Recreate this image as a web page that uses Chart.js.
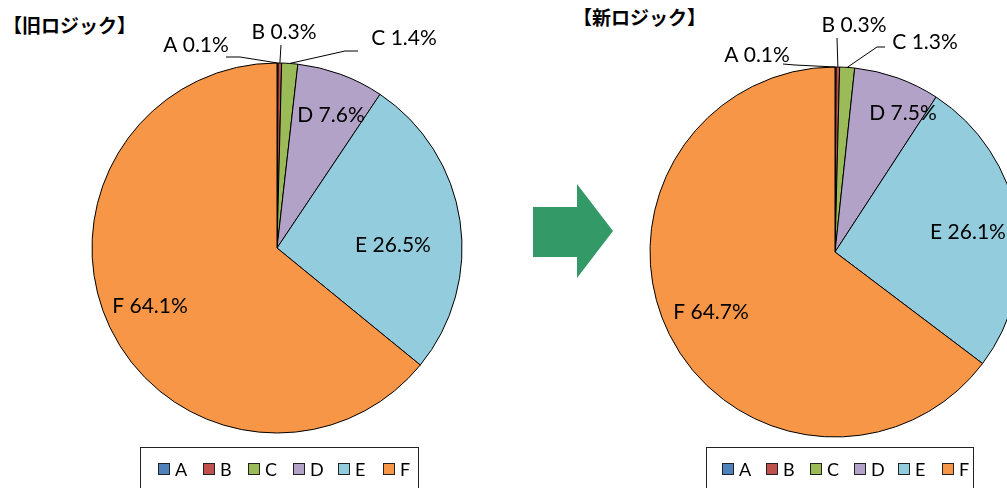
<!DOCTYPE html>
<html>
<head>
<meta charset="utf-8">
<script src="https://cdn.jsdelivr.net/npm/chart.js@4.4.1/dist/chart.umd.min.js"></script>
<style>
  html, body { margin: 0; padding: 0; background: #fff; }
  body { width: 1007px; height: 488px; overflow: hidden; position: relative; font-family: Lato, "Noto Sans", sans-serif; }
  canvas { position: absolute; top: 0; }
  .title { position: absolute; font-family: "Noto Sans CJK JP", sans-serif; font-weight: bold; font-size: 19px; line-height: 22px; white-space: nowrap; }
  .legend { position: absolute; top: 447px; height: 60px; border: 1px solid #222; box-sizing: border-box; display: flex; }
  .item { flex: none; display: flex; align-items: center; height: 22px; margin-top: 10px; font-size: 18px; }
  .sw { width: 10px; height: 10px; border: 1px solid #222; margin-right: 5px; }
  .arrow { position: absolute; left: 533px; top: 184px; width: 80px; height: 94px; background: #339966;
           clip-path: polygon(0 23px, 44px 23px, 44px 0, 80px 47px, 44px 94px, 44px 73px, 0 73px); }
</style>
</head>
<body>
<div class="title" style="left:3px; top:14px;">【旧ロジック】</div>
<div class="title" style="left:573px; top:6px;">【新ロジック】</div>
<div class="arrow"></div>
<canvas id="oldPie" width="520" height="488" style="left:0"></canvas>
<canvas id="newPie" width="560" height="488" style="left:487px"></canvas>
<div class="legend" id="oldLegend" style="left:140px; width:279px; padding-left:17px;"></div>
<div class="legend" id="newLegend" style="left:706px; width:268px; padding-left:15px;"></div>

<script>
var categories = ['A', 'B', 'C', 'D', 'E', 'F'];
var oldValues = [0.1, 0.3, 1.4, 7.6, 26.5, 64.1];
var newValues = [0.1, 0.3, 1.3, 7.5, 26.1, 64.7];
var sliceColors = ['#4F81BD', '#C0504D', '#9BBB59', '#B3A2C7', '#93CDDD', '#F79646'];

// label placement (px from pie centre) and leader line bends
var oldLabelPos = [[-81, -203], [7, -216], [127, -210], [54, -133], [116, -3], [-127, 58]];
var newLabelPos = [[-78, -197], [19, -227], [90, -210], [68, -139], [133, -20], [-124, 60]];
var oldLeaders = [[[-51, -191], [-37, -191]], [[4, -203], [4, -203]], [[81, -197], [68, -197]], null, null, null];
var newLeaders = [[[-52, -188], [-40, -187]], [[2, -214], [2, -214]], [[50, -205], [42, -205]], null, null, null];

function labelPlugin(positions, leaders) {
  return {
    id: 'pieLabels',
    afterDatasetsDraw: function(chart) {
      var ctx = chart.ctx;
      var meta = chart.getDatasetMeta(0);
      var values = chart.data.datasets[0].data;
      ctx.save();
      ctx.font = '21px Lato';
      ctx.fillStyle = '#000';
      ctx.textAlign = 'center';
      ctx.textBaseline = 'middle';
      meta.data.forEach(function(arc, i) {
        var cx = arc.x, cy = arc.y;
        var lead = leaders[i];
        if (lead) {
          var mid = (arc.startAngle + arc.endAngle) / 2;
          var ex = cx + arc.outerRadius * Math.cos(mid);
          var ey = cy + arc.outerRadius * Math.sin(mid);
          ctx.beginPath();
          ctx.moveTo(cx + lead[0][0], cy + lead[0][1]);
          ctx.lineTo(cx + lead[1][0], cy + lead[1][1]);
          ctx.lineTo(ex, ey);
          ctx.lineWidth = 1;
          ctx.strokeStyle = '#000';
          ctx.stroke();
        }
        var p = positions[i];
        ctx.fillText(chart.data.labels[i] + ' ' + values[i].toFixed(1) + '%', cx + p[0], cy + p[1]);
      });
      ctx.restore();
    }
  };
}

function makePie(id, values, padding, positions, leaders) {
  return new Chart(document.getElementById(id), {
    type: 'pie',
    data: {
      labels: categories,
      datasets: [{
        data: values,
        backgroundColor: sliceColors,
        borderColor: '#000',
        borderWidth: 1
      }]
    },
    options: {
      responsive: false,
      animation: false,
      events: [],
      layout: { padding: padding },
      plugins: { legend: { display: false }, tooltip: { enabled: false } }
    },
    plugins: [labelPlugin(positions, leaders)]
  });
}

function makeLegend(id, step) {
  var box = document.getElementById(id);
  categories.forEach(function(c, i) {
    var item = document.createElement('div');
    item.className = 'item';
    item.style.width = step + 'px';
    var sw = document.createElement('span');
    sw.className = 'sw';
    sw.style.background = sliceColors[i];
    item.appendChild(sw);
    item.appendChild(document.createTextNode(c));
    box.appendChild(item);
  });
}

makeLegend('oldLegend', 45);
makeLegend('newLegend', 44);

document.fonts.load('21px Lato').then(function() {
  makePie('oldPie', oldValues, { left: 91.5, top: 62.5, right: 57.5, bottom: 54.5 }, oldLabelPos, oldLeaders);
  makePie('newPie', newValues, { left: 162.5, top: 66.5, right: 26.5, bottom: 50.5 }, newLabelPos, newLeaders);
});
</script>
</body>
</html>
